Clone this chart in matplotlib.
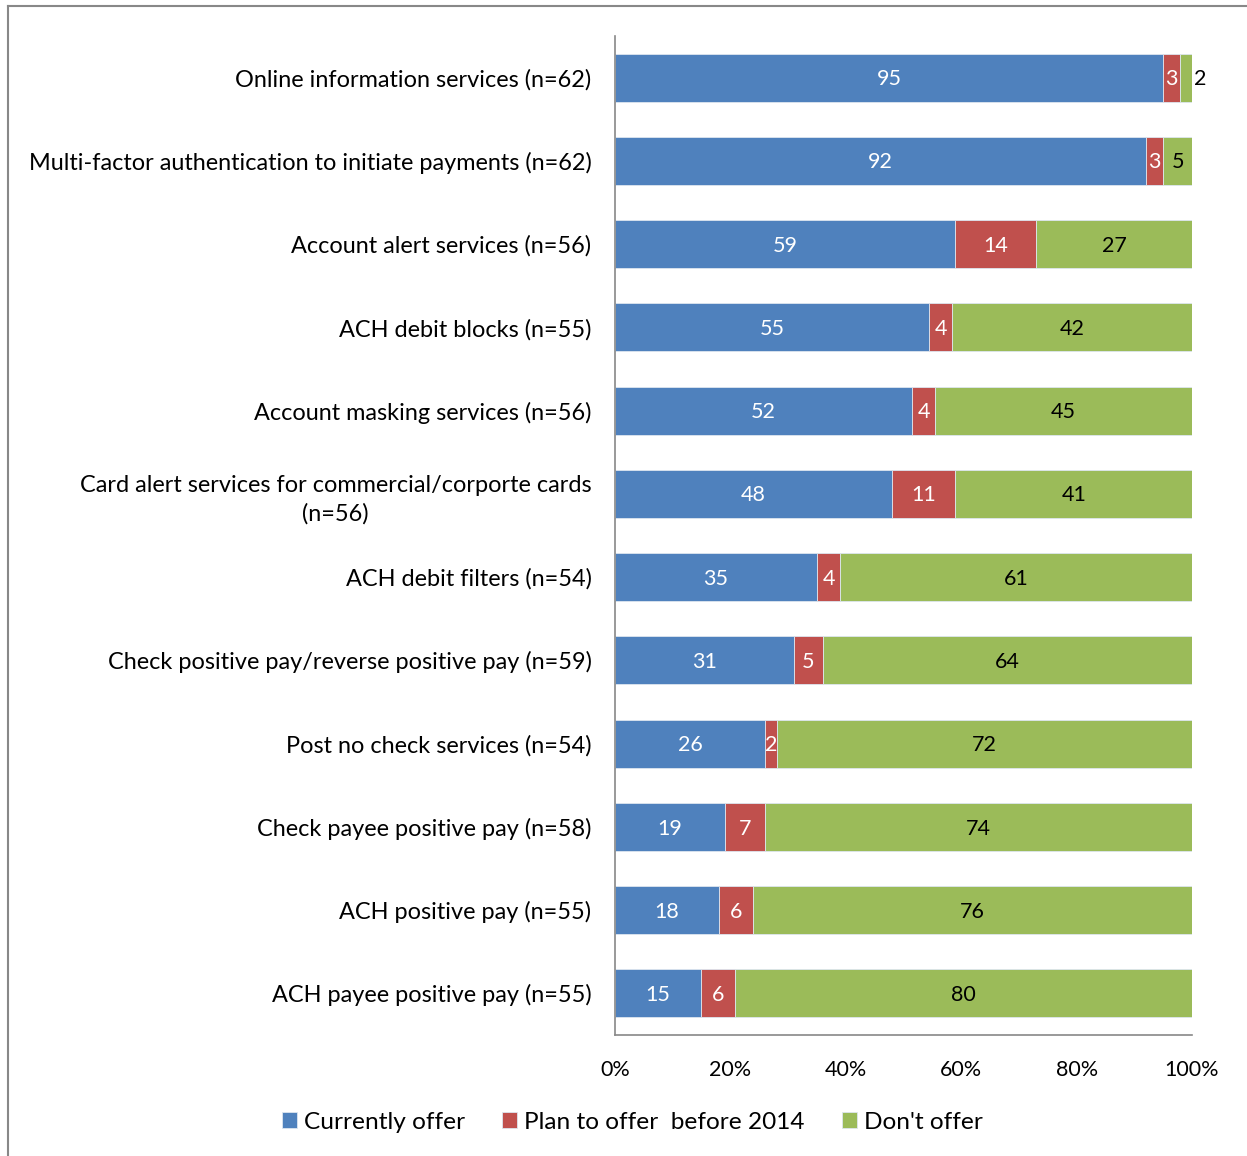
import numpy as np
import matplotlib.pyplot as plt
from matplotlib.lines import Line2D

plt.rcParams['font.family'] = ['Lato', 'DejaVu Sans']

services = [
    'Online information services (n=62)',
    'Multi-factor authentication to initiate payments (n=62)',
    'Account alert services (n=56)',
    'ACH debit blocks (n=55)',
    'Account masking services (n=56)',
    'Card alert services for commercial/corporte cards\n(n=56)',
    'ACH debit filters (n=54)',
    'Check positive pay/reverse positive pay (n=59)',
    'Post no check services (n=54)',
    'Check payee positive pay (n=58)',
    'ACH positive pay (n=55)',
    'ACH payee positive pay (n=55)',
]
currently_offer = [95, 92, 59, 55, 52, 48, 35, 31, 26, 19, 18, 15]
plan_to_offer = [3, 3, 14, 4, 4, 11, 4, 5, 2, 7, 6, 6]
dont_offer = [2, 5, 27, 42, 45, 41, 61, 64, 72, 74, 76, 80]
tick_labels = ['0%', '20%', '40%', '60%', '80%', '100%']

series = [
    ('Currently offer', currently_offer, '#4F81BD', 'white'),
    ('Plan to offer  before 2014', plan_to_offer, '#C0504D', 'white'),
    ("Don't offer", dont_offer, '#9BBB59', 'black'),
]

fig = plt.figure(figsize=(12.47, 11.56), dpi=100)
ax = fig.add_axes([0.4932, 0.1047, 0.4627, 0.8642])

y = np.arange(len(services))
totals = np.array(currently_offer) + np.array(plan_to_offer) + np.array(dont_offer)
left = np.zeros(len(services))
for name, vals, color, txt_color in series:
    vals = np.array(vals)
    share = vals / totals
    ax.barh(y, share, left=left, height=0.575, color=color,
            edgecolor='#dde6f0', linewidth=0.6, label=name)
    for i, (v, s, l0) in enumerate(zip(vals, share, left)):
        # tiny last segment gets its label just past the bar end
        if s < 0.025 and name == "Don't offer":
            ax.text(l0 + s + 0.004, i + 0.02, str(v), ha='left', va='center',
                    fontsize=15.5, color='black')
        else:
            ax.text(l0 + s / 2, i + 0.02, str(v), ha='center', va='center',
                    fontsize=15.5, color=txt_color)
    left += share

ax.set_xlim(0, 1)
ax.set_ylim(len(services) - 0.5, -0.5)
ax.set_xticks(np.linspace(0, 1, 6))
ax.set_xticklabels(tick_labels, fontsize=15.5)
ax.set_yticks(y)
ax.set_yticklabels(services, fontsize=16.9, multialignment='center',
                   linespacing=1.45)
ax.tick_params(length=0)
ax.tick_params(axis='x', pad=18)
ax.tick_params(axis='y', pad=17)
for side in ['top', 'right']:
    ax.spines[side].set_visible(False)
for side in ['left', 'bottom']:
    ax.spines[side].set_color('#888888')
    ax.spines[side].set_linewidth(1.2)

fig.legend(loc='center', bbox_to_anchor=(0.507, 0.029), ncol=3, frameon=False,
           fontsize=17.6, handlelength=0.62, handleheight=0.62, handletextpad=0.3,
           columnspacing=1.5)

# outer frame along the top and left edges
fig.add_artist(Line2D([0.0066, 0.0066], [0, 0.9948], color='#888888', lw=1.5))
fig.add_artist(Line2D([0.0066, 1], [0.9948, 0.9948], color='#888888', lw=1.5))

fig.savefig('out.png', dpi=100)
